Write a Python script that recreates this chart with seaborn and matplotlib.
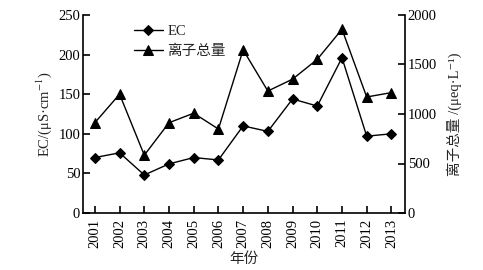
import matplotlib
matplotlib.use("Agg")
import matplotlib.pyplot as plt
import seaborn as sns
import pandas as pd

years = [2001, 2002, 2003, 2004, 2005, 2006, 2007, 2008, 2009, 2010, 2011, 2012, 2013]
ec = [70, 76, 48, 62, 70, 67, 110, 103, 144, 135, 196, 97, 100]
ion_total = [912, 1200, 584, 912, 1008, 848, 1648, 1232, 1352, 1552, 1856, 1172, 1216]
left_ticks = [0, 50, 100, 150, 200, 250]
right_ticks = [0, 500, 1000, 1500, 2000]

sns.set_theme(style="ticks")
fam = ['Liberation Serif', 'Noto Sans CJK SC', 'DejaVu Sans']
plt.rcParams['font.family'] = fam
plt.rcParams['mathtext.fontset'] = 'stix'
FS = 10.5

df = pd.DataFrame({"year": years, "ec": ec, "ion": ion_total})

fig = plt.figure(figsize=(4.83, 2.7), dpi=100)
ax = fig.add_axes([83/483, 57/270, (405-83)/483, (213-15)/270])
ax2 = ax.twinx()

sns.lineplot(data=df, x="year", y="ec", ax=ax, color="black", marker="D",
             markersize=5, markeredgecolor="black", linewidth=1.0, label="EC", legend=False)
sns.lineplot(data=df, x="year", y="ion", ax=ax2, color="black", marker="^",
             markersize=6.5, markeredgecolor="black", linewidth=1.0, label="离子总量", legend=False)

ax.set_xlim(2000.52, 2013.55)
ax.set_ylim(0, 250)
ax2.set_ylim(0, 2000)
ax.set_xticks(years)
ax.set_xticklabels([str(y) for y in years], rotation=90)
ax.set_yticks(left_ticks)
ax2.set_yticks(right_ticks)

for a in (ax, ax2):
    a.spines['top'].set_visible(False)
    for s in a.spines.values():
        s.set_linewidth(1.2)
        s.set_color('black')
    a.tick_params(direction='in', length=5, width=1.2, colors='black', labelsize=FS, pad=2)
ax.spines['right'].set_visible(False)
ax2.spines['left'].set_visible(False)
ax2.spines['bottom'].set_visible(False)
ax.tick_params(axis='x', pad=4)

ax.set_xlabel("年份", fontsize=FS, labelpad=3)
ax.set_ylabel("EC/(μS·cm$^{-1}$)", fontsize=FS, labelpad=3)
ax2.set_ylabel("离子总量 /(μeq·L⁻¹)", fontsize=FS, labelpad=7, rotation=90)

h1, l1 = ax.get_legend_handles_labels()
h2, l2 = ax2.get_legend_handles_labels()
ax.legend(h1 + h2, l1 + l2, loc='upper left', bbox_to_anchor=(0.14, 0.98),
          frameon=False, handlelength=2.0, handletextpad=0.3, labelspacing=0.45,
          fontsize=FS, borderaxespad=0)

fig.savefig("out.png", dpi=100)
